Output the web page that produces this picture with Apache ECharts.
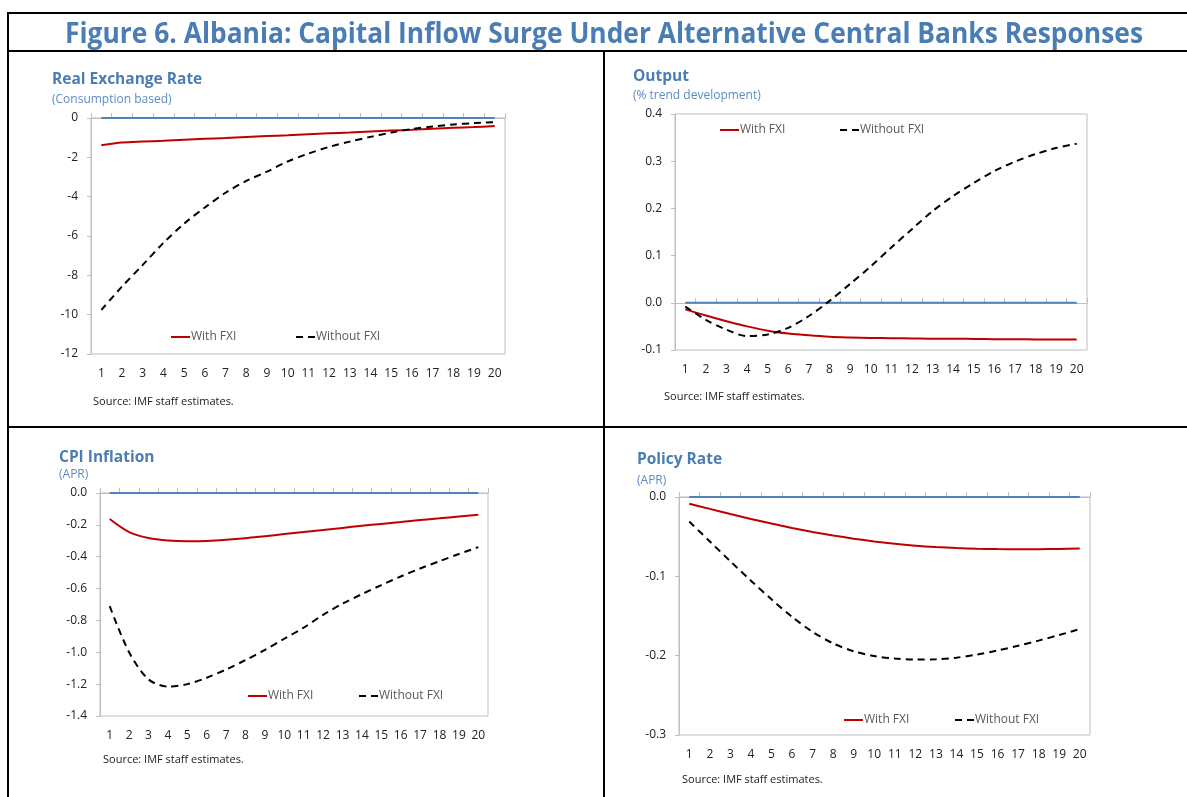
<!DOCTYPE html>
<html>
<head>
<meta charset="utf-8">
<script src="https://cdn.jsdelivr.net/npm/echarts@6/dist/echarts.min.js"></script>
<style>
html, body { margin: 0; padding: 0; background: #ffffff; }
#main { width: 1187px; height: 797px; }
</style>
</head>
<body>
<div id="main"></div>
<script>
// Quarters after the shock
const periods = ['1', '2', '3', '4', '5', '6', '7', '8', '9', '10',
                 '11', '12', '13', '14', '15', '16', '17', '18', '19', '20'];

// Steady-state reference (zero deviation)
const zeroLine = [0, 0, 0, 0, 0, 0, 0, 0, 0, 0, 0, 0, 0, 0, 0, 0, 0, 0, 0, 0];

// Real exchange rate (consumption based)
const rerWithFXI = [-1.38, -1.25, -1.20, -1.16, -1.11, -1.06, -1.02, -0.97, -0.92, -0.88,
                    -0.83, -0.78, -0.74, -0.69, -0.64, -0.60, -0.55, -0.50, -0.46, -0.41];
const rerWithoutFXI = [-9.76, -8.57, -7.47, -6.35, -5.37, -4.55, -3.80, -3.20, -2.73, -2.21,
                       -1.81, -1.47, -1.20, -0.96, -0.74, -0.56, -0.43, -0.33, -0.26, -0.21];

// Output (% trend development)
const outputWithFXI = [-0.014, -0.027, -0.039, -0.050, -0.059, -0.065, -0.069, -0.072, -0.0735, -0.0745,
                       -0.075, -0.0755, -0.076, -0.076, -0.0765, -0.077, -0.0772, -0.0775, -0.078, -0.078];
const outputWithoutFXI = [-0.008, -0.036, -0.057, -0.0705, -0.067, -0.053, -0.028, 0.004, 0.040, 0.077,
                          0.117, 0.156, 0.194, 0.226, 0.254, 0.279, 0.299, 0.315, 0.328, 0.337];

// CPI inflation (APR)
const cpiWithFXI = [-0.163, -0.245, -0.282, -0.298, -0.303, -0.301, -0.294, -0.284, -0.271, -0.258,
                    -0.245, -0.232, -0.219, -0.206, -0.194, -0.182, -0.170, -0.159, -0.148, -0.137];
const cpiWithoutFXI = [-0.71, -1.00, -1.17, -1.215, -1.20, -1.16, -1.108, -1.049, -0.985, -0.915,
                       -0.845, -0.765, -0.695, -0.635, -0.578, -0.524, -0.474, -0.428, -0.383, -0.340];

// Policy rate (APR)
const policyWithFXI = [-0.0085, -0.0150, -0.0215, -0.0277, -0.0335, -0.0390, -0.0440, -0.0485, -0.0525, -0.0560,
                       -0.0590, -0.0613, -0.0630, -0.0643, -0.0652, -0.0657, -0.0659, -0.0658, -0.0655, -0.0650];
const policyWithoutFXI = [-0.031, -0.056, -0.081, -0.1055, -0.129, -0.151, -0.170, -0.1845, -0.1945, -0.2005,
                          -0.2035, -0.2048, -0.2045, -0.2025, -0.1985, -0.1935, -0.1875, -0.181, -0.174, -0.1665];

const seriesNames = ['With FXI', 'Without FXI'];
const figureTitle = 'Figure 6. Albania: Capital Inflow Surge Under Alternative Central Banks Responses';
const sourceNote = 'Source: IMF staff estimates.';

const panels = [
  { title: 'Real Exchange Rate', subtitle: '(Consumption based)',
    withFXI: rerWithFXI, withoutFXI: rerWithoutFXI, min: -12, max: 0, interval: 2, digits: 0,
    grid: { left: 91, top: 118, width: 414, height: 236 },
    titleAt: [52, 80], subAt: [52, 100], sourceAt: [93, 402], legendAt: [[170, 338], [295, 338]] },
  { title: 'Output', subtitle: '(% trend development)',
    withFXI: outputWithFXI, withoutFXI: outputWithoutFXI, min: -0.1, max: 0.4, interval: 0.1, digits: 1,
    grid: { left: 675, top: 114, width: 412, height: 236 },
    titleAt: [633, 77], subAt: [633, 96], sourceAt: [664, 397], legendAt: [[719, 131], [839, 131]] },
  { title: 'CPI Inflation', subtitle: '(APR)',
    withFXI: cpiWithFXI, withoutFXI: cpiWithoutFXI, min: -1.4, max: 0, interval: 0.2, digits: 1,
    grid: { left: 100, top: 493, width: 388, height: 223 },
    titleAt: [59, 458], subAt: [59, 475], sourceAt: [103, 760], legendAt: [[247, 697], [358, 697]] },
  { title: 'Policy Rate', subtitle: '(APR)',
    withFXI: policyWithFXI, withoutFXI: policyWithoutFXI, min: -0.3, max: 0, interval: 0.1, digits: 1,
    grid: { left: 679, top: 497, width: 411, height: 238 },
    titleAt: [637, 460], subAt: [637, 481], sourceAt: [682, 780], legendAt: [[843, 721], [954, 721]] }
];

const FONT = '"Open Sans", "DejaVu Sans", sans-serif';
const TITLE_BLUE = '#4a7db3';
const SUB_BLUE = '#5b8cc4';
const AXIS_GRAY = '#bfbfbf';
const RED = '#c00000';
const ZERO_BLUE = '#4f81bd';

function textEl(str, x, y, size, weight, color, extra) {
  return Object.assign({
    type: 'text', x: x, y: y, silent: true,
    style: {
      text: str, fill: color,
      font: weight + ' ' + size + 'px ' + FONT,
      fontSize: size, fontWeight: weight, fontFamily: FONT,
      align: 'left', verticalAlign: 'middle',
      textAlign: 'left', textVerticalAlign: 'middle'
    }
  }, extra || {});
}

function lineEl(x1, y1, x2, y2) {
  return { type: 'line', silent: true, shape: { x1: x1, y1: y1, x2: x2, y2: y2 },
           style: { stroke: '#000000', lineWidth: 2 } };
}

// Fit the figure heading to its printed width
const measureCtx = document.createElement('canvas').getContext('2d');
measureCtx.font = 'bold 29px ' + FONT;
const headingScale = 1078 / measureCtx.measureText(figureTitle).width;

const grids = [], xAxes = [], yAxes = [], series = [], legends = [];
const heading = textEl(figureTitle, 604, 35, 29, 'bold', TITLE_BLUE, { scaleX: headingScale });
heading.style.align = 'center';
heading.style.textAlign = 'center';
const graphics = [
  lineEl(7, 13, 1187, 13),
  lineEl(7, 51, 1187, 51),
  lineEl(8, 12, 8, 797),
  lineEl(604, 51, 604, 797),
  lineEl(7, 427, 1187, 427),
  heading
];

panels.forEach(function (p, i) {
  grids.push(Object.assign({ show: true, borderColor: AXIS_GRAY, borderWidth: 1,
                             backgroundColor: 'transparent', containLabel: false }, p.grid));

  // Labelled category axis along the bottom of the plot
  xAxes.push({
    type: 'category', gridIndex: i, data: periods, position: 'bottom', boundaryGap: true,
    axisLine: { show: false, onZero: false }, axisTick: { show: false },
    axisLabel: { interval: 0, margin: 14, fontSize: 12, color: '#222222', fontFamily: FONT }
  });
  // Unlabelled axis line with ticks sitting on zero
  xAxes.push({
    type: 'category', gridIndex: i, data: periods, position: 'top', boundaryGap: true,
    axisLine: { show: true, onZero: true, lineStyle: { color: AXIS_GRAY, width: 1 } },
    axisTick: { show: true, length: 5, lineStyle: { color: AXIS_GRAY } },
    axisLabel: { show: false }, splitLine: { show: false }
  });

  yAxes.push({
    type: 'value', gridIndex: i, min: p.min, max: p.max, interval: p.interval,
    axisLine: { show: true, lineStyle: { color: AXIS_GRAY } },
    axisTick: { show: true, length: 4, lineStyle: { color: AXIS_GRAY } },
    splitLine: { show: false },
    axisLabel: {
      margin: 13, fontSize: 12, color: '#222222', fontFamily: FONT,
      formatter: function (v) { return (Math.abs(v) < 1e-9 ? 0 : v).toFixed(p.digits); }
    }
  });

  const xi = i * 2;
  series.push({
    name: 'zero', type: 'line', xAxisIndex: xi, yAxisIndex: i, data: zeroLine,
    symbol: 'none', silent: true, lineStyle: { color: ZERO_BLUE, width: 2 }, z: 2
  });
  series.push({
    name: seriesNames[0], type: 'line', xAxisIndex: xi, yAxisIndex: i, data: p.withFXI,
    symbol: 'none', smooth: 0.3, color: RED, lineStyle: { color: RED, width: 2 }, z: 3
  });
  series.push({
    name: seriesNames[1], type: 'line', xAxisIndex: xi, yAxisIndex: i, data: p.withoutFXI,
    symbol: 'none', smooth: 0.3, color: '#000000',
    lineStyle: { color: '#000000', width: 2, type: [7, 5] }, z: 4
  });

  seriesNames.forEach(function (name, k) {
    legends.push({
      data: [name], left: p.legendAt[k][0], top: p.legendAt[k][1] - 7,
      orient: 'horizontal', padding: 0, itemWidth: 19, itemHeight: 14,
      selectedMode: false,
      // line-only key: hide the marker drawn in the middle of the key
      itemStyle: { opacity: 0, color: 'transparent', borderWidth: 0 },
      textStyle: { color: '#595959', fontSize: 12, fontFamily: FONT, padding: [0, 0, 0, -4] }
    });
  });

  graphics.push(textEl(p.title, p.titleAt[0], p.titleAt[1], 15.5, 'bold', TITLE_BLUE));
  graphics.push(textEl(p.subtitle, p.subAt[0], p.subAt[1], 12, 'normal', SUB_BLUE));
  graphics.push(textEl(sourceNote, p.sourceAt[0], p.sourceAt[1], 11, 'normal', '#222222'));
});

const chart = echarts.init(document.getElementById('main'), null, { renderer: 'canvas' });
chart.setOption({
  backgroundColor: '#ffffff',
  animation: false,
  grid: grids,
  xAxis: xAxes,
  yAxis: yAxes,
  legend: legends,
  series: series,
  graphic: { elements: graphics }
});
</script>
</body>
</html>
